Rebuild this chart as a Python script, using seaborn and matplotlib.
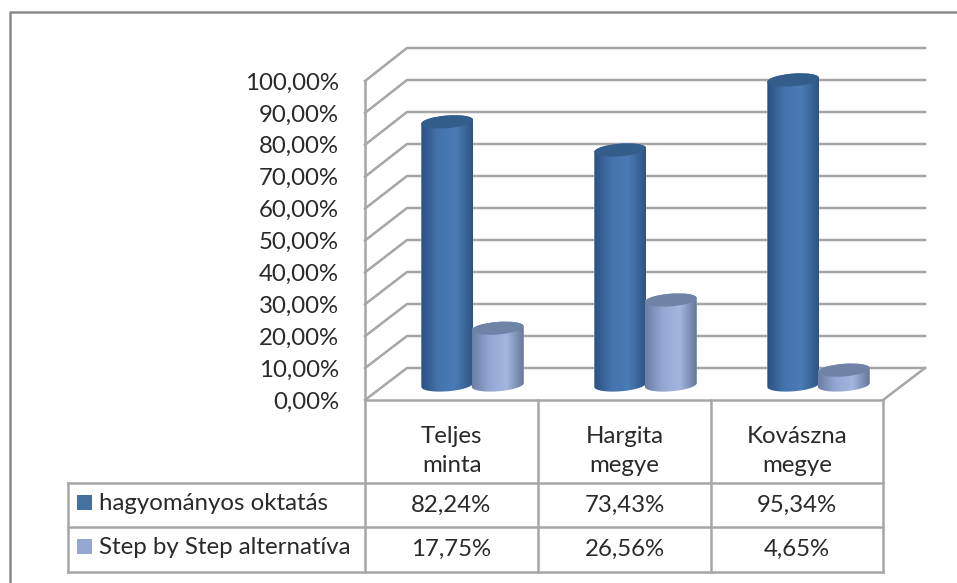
import numpy as np
import pandas as pd
import matplotlib
matplotlib.use('Agg')
import matplotlib.pyplot as plt
from matplotlib.colors import LinearSegmentedColormap
from matplotlib.patches import Ellipse, Rectangle
from matplotlib.path import Path
import seaborn as sns

# Data
categories = ['Teljes\nminta', 'Hargita\nmegye', 'Kovászna\nmegye']
series_names = ['hagyományos oktatás', 'Step by Step alternatíva']
traditional = [82.24, 73.43, 95.34]
step_by_step = [17.75, 26.56, 4.65]
y_ticks = [0, 10, 20, 30, 40, 50, 60, 70, 80, 90, 100]

# Colours
grid_color = '#a6a6a6'
frame_color = '#8a8a8a'
text_color = '#2a2a2a'
legend_colors = ['#44719f', '#95a8d2']
top_colors = ['#335d8b', '#6f83a6']
body_cmaps = [
    LinearSegmentedColormap.from_list('dark', ['#2b5180', '#4474ac', '#4a7bb5', '#2e5583']),
    LinearSegmentedColormap.from_list('light', ['#6b7fa4', '#93a7d2', '#a3b6de', '#66789a']),
]

df = pd.DataFrame({
    'region': categories * 2,
    'group': [series_names[0]] * 3 + [series_names[1]] * 3,
    'share': traditional + step_by_step,
})

sns.set_theme(style='white')
plt.rcParams['font.family'] = ['Lato', 'DejaVu Sans']

W, H = 957, 583
fs = 17.3
fig = plt.figure(figsize=(W / 100, H / 100), dpi=100)

# Pixel coordinate axes for the walls and the data table
bg = fig.add_axes([0, 0, 1, 1])
bg.set_xlim(0, W)
bg.set_ylim(H, 0)
bg.set_axis_off()


def line(xs, ys, color=grid_color, lw=1.8):
    bg.plot(xs, ys, color=color, lw=lw, solid_capstyle='projecting')


# Outer frame
line([10, 10, W], [H, 12, 12], color=frame_color, lw=1.8)

# Walls
front_x, back_x, right_x = 365, 407, 925
for v in y_ticks:
    front_y = 400 - 3.19 * v
    back_y = 368 - 3.2 * v
    line([front_x, back_x, right_x], [front_y, back_y, back_y])
    label = f'{v:.2f}'.replace('.', ',') + '%'
    bg.text(339, front_y + 2, label, ha='right', va='center', fontsize=fs, color=text_color)
line([front_x, front_x], [81, 400])
line([883, right_x], [400, 368])

# Data table
col_x = [365, 538, 711, 883]
row_y = [483, 527, 572]
line([front_x, 883], [400, 400])
for x in col_x:
    line([x, x], [400, 572])
for y in row_y:
    line([68, 883], [y, y])
line([68, 68], [483, 572])

for i, cat in enumerate(categories):
    cx = (col_x[i] + col_x[i + 1]) / 2
    bg.text(cx, 451, cat, ha='center', va='center', fontsize=fs, color=text_color, linespacing=1.45)
    for y, vals in zip([505, 549], [traditional, step_by_step]):
        bg.text(cx, y, f'{vals[i]:.2f}'.replace('.', ',') + '%', ha='center', va='center',
                fontsize=fs, color=text_color)

for name, col, y in zip(series_names, legend_colors, [503, 547]):
    bg.add_patch(Rectangle((77, y - 8), 15, 15, color=col, lw=0))
    bg.text(99, y, name, ha='left', va='center', fontsize=fs, color=text_color)

# Bars
ax = fig.add_axes([386 / W, (H - 385) / H, 519 / W, 320 / H])
ax.patch.set_alpha(0)
sns.barplot(data=df, x='region', y='share', hue='group', palette=legend_colors,
            width=0.585, gap=-0.025, legend=False, ax=ax)
ax.set_xlim(-0.5, 2.5)
ax.set_ylim(0, 100)
ax.set_axis_off()


def to_px(x, y):
    return bg.transData.inverted().transform(ax.transData.transform((x, y)))


def arc(cx, cy, a, b, tilt, t0, t1):
    t = np.radians(np.linspace(t0, t1, 40))
    th = np.radians(tilt)
    xs = cx + a * np.cos(t) * np.cos(th) - b * np.sin(t) * np.sin(th)
    ys = cy + a * np.cos(t) * np.sin(th) + b * np.sin(t) * np.cos(th)
    return np.column_stack([xs, ys])


tilt = -4.5
ry = 6.3
for s, container in enumerate(ax.containers):
    for patch in container:
        x0, x1 = patch.get_x(), patch.get_x() + patch.get_width()
        top = patch.get_height()
        (px0, py_top), (px1, py_base) = to_px(x0, top), to_px(x1, 0)
        cx, rx = (px0 + px1) / 2, (px1 - px0) / 2
        # Cylinder outline: lower arc of the base and upper arc of the lid
        pts = np.vstack([arc(cx, py_base, rx, ry, tilt, 0, 180),
                         arc(cx, py_top, rx, ry, tilt, 180, 360)])
        outline = Path(np.vstack([pts, pts[0]]), closed=True)
        z = 3 + s
        patch.set_zorder(z)
        patch.set_clip_path(outline, bg.transData)
        patch.set_clip_box(fig.bbox)
        im = ax.imshow(np.linspace(0, 1, 120)[None, :], cmap=body_cmaps[s], aspect='auto',
                       extent=[x0, x1, -4, top + 4], zorder=z + 0.1)
        im.set_clip_path(outline, bg.transData)
        im.set_clip_box(fig.bbox)
        lid = Ellipse((cx, py_top), 2 * rx, 2 * ry, angle=tilt, transform=bg.transData,
                      facecolor=top_colors[s], edgecolor='none', zorder=z + 0.2, clip_on=False)
        ax.add_artist(lid)

ax.set_xlim(-0.5, 2.5)
ax.set_ylim(0, 100)

fig.savefig('out.png', dpi=100)
